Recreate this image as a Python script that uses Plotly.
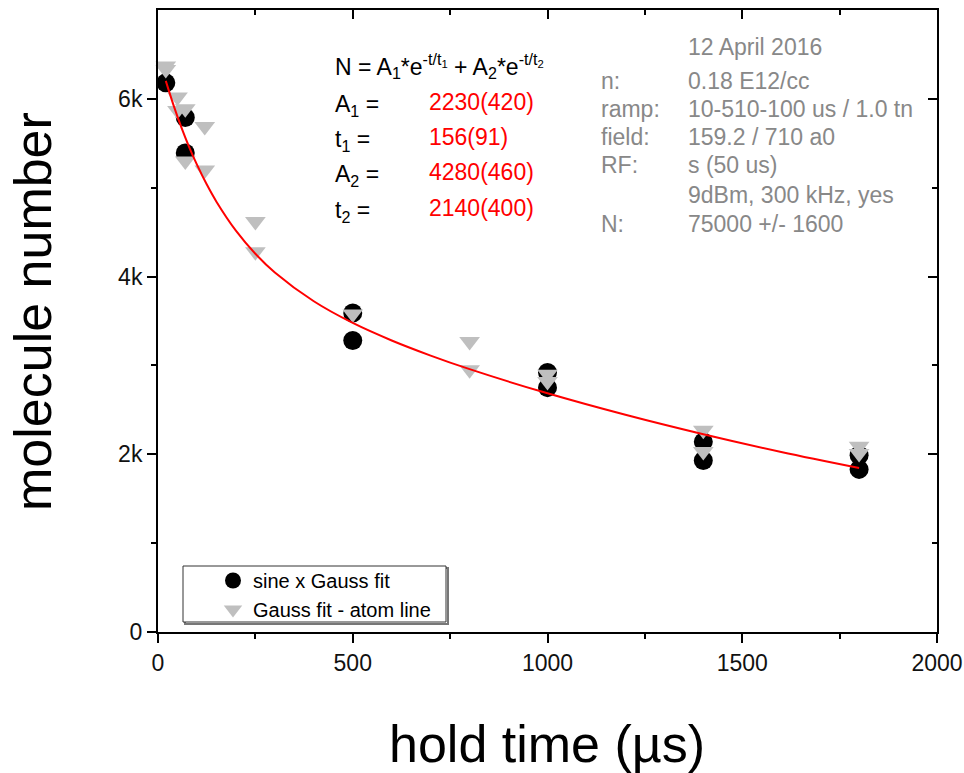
import plotly.graph_objects as go

# ---------------- data ----------------
# sine x Gauss fit (black circles)
circ_t = [20, 70, 70, 500, 500, 1000, 1000, 1400, 1400, 1800, 1800]
circ_n = [6180, 5790, 5390, 3590, 3280, 2920, 2750, 2140, 1930, 1990, 1830]

# Gauss fit - atom line (grey triangles)
tri_t = [20, 20, 50, 50, 70, 70, 120, 120, 250, 250, 500, 800, 800,
         1000, 1000, 1400, 1400, 1800, 1800]
tri_n = [6370, 6330, 6020, 5870, 5890, 5300, 5690, 5200, 4620, 4280, 3580, 3270, 2950,
         2900, 2820, 2270, 2030, 2090, 2010]

# fitted curve (red)
fit_t = [20, 40, 60, 80, 100, 125, 150, 200, 250, 300, 400, 500, 600, 700,
         800, 1000, 1200, 1400, 1600, 1800]
fit_n = [6202, 5927, 5680, 5458, 5260, 5038, 4843, 4517, 4257, 4046, 3722, 3478,
         3281, 3111, 2958, 2686, 2444, 2225, 2026, 1846]

x_ticks = [0, 500, 1000, 1500, 2000]
y_ticks = [0, 2000, 4000, 6000]
y_ticktext = ["0", "2k", "4k", "6k"]

eq_labels = ["A<sub>1</sub> =", "t<sub>1</sub> =", "A<sub>2</sub> =", "t<sub>2</sub> ="]
eq_values = ["2230(420)", "156(91)", "4280(460)", "2140(400)"]
info_labels = ["", "n:", "ramp:", "field:", "RF:", "", "N:"]
info_values = ["12 April 2016", "0.18 E12/cc", "10-510-100 us / 1.0 tn",
               "159.2 / 710 a0", "s (50 us)", "9dBm, 300 kHz, yes", "75000 +/- 1600"]

# ---------------- layout helpers ----------------
W, H = 964, 773
L, R, T, B = 158, 937, 10, 632
FONT = "Liberation Sans, Arial, sans-serif"


def px(x):
    return (x - L) / (R - L)


def py(y):
    return (B - y) / (B - T)


fig = go.Figure()
fig.add_trace(go.Scatter(x=circ_t, y=circ_n, mode="markers", name="sine x Gauss fit",
                         marker=dict(symbol="circle", size=19, color="black"),
                         cliponaxis=False))
fig.add_trace(go.Scatter(x=tri_t, y=tri_n, mode="markers", name="Gauss fit - atom line",
                         marker=dict(symbol="triangle-down", size=18, color="#bfbfbf"),
                         cliponaxis=False))
fig.add_trace(go.Scatter(x=fit_t, y=fit_n, mode="lines", line=dict(color="red", width=2, shape="spline"),
                         showlegend=False, hoverinfo="skip"))
# carrier for the mirrored top/right axes
fig.add_trace(go.Scatter(x=[0], y=[0], xaxis="x2", yaxis="y2", mode="markers",
                         marker=dict(opacity=0), showlegend=False, hoverinfo="skip"))

axis_common = dict(showgrid=False, zeroline=False, showline=True, linecolor="black",
                   linewidth=2, tickcolor="black", tickwidth=2, automargin=False)

fig.update_layout(
    width=W, height=H,
    margin=dict(l=L, r=W - R, t=T, b=H - B, autoexpand=False),
    paper_bgcolor="white", plot_bgcolor="white",
    font=dict(family=FONT, color="black"),
    xaxis=dict(range=[0, 2000], ticks="outside", ticklen=9, tickvals=x_ticks,
               tickfont=dict(size=23, color="#111"),
               minor=dict(tickvals=[250, 750, 1250, 1750], ticks="outside", ticklen=5,
                          tickwidth=2, tickcolor="black"),
               **axis_common),
    yaxis=dict(range=[0, 7000], ticks="outside", ticklen=9, tickvals=y_ticks,
               ticktext=y_ticktext, tickfont=dict(size=23, color="#111"),
               minor=dict(tickvals=[1000, 3000, 5000], ticks="outside", ticklen=5,
                          tickwidth=2, tickcolor="black"),
               **axis_common),
    xaxis2=dict(range=[0, 2000], overlaying="x", side="top", anchor="y",
                ticks="inside", ticklen=9, tickvals=x_ticks, showticklabels=False,
                minor=dict(tickvals=[250, 750, 1250, 1750], ticks="inside", ticklen=5,
                           tickwidth=2, tickcolor="black"),
                **axis_common),
    yaxis2=dict(range=[0, 7000], overlaying="y", side="right", anchor="x",
                ticks="inside", ticklen=9, tickvals=y_ticks, showticklabels=False,
                minor=dict(tickvals=[1000, 3000, 5000], ticks="inside", ticklen=5,
                           tickwidth=2, tickcolor="black"),
                **axis_common),
    legend=dict(x=px(213), y=py(561), xanchor="left", yanchor="top",
                bgcolor="rgba(0,0,0,0)", borderwidth=0,
                font=dict(size=20, family=FONT, color="black"),
                tracegroupgap=0, itemsizing="trace"),
    showlegend=True,
)

# legend frame with shadow
fig.add_shape(type="rect", xref="paper", yref="paper", x0=px(185), x1=px(448),
              y0=py(624), y1=py(568), line=dict(color="#777", width=2), fillcolor="rgba(0,0,0,0)",
              layer="below")
fig.add_shape(type="rect", xref="paper", yref="paper", x0=px(183), x1=px(446),
              y0=py(622), y1=py(566), line=dict(color="#333", width=1), fillcolor="white",
              layer="below")

annots = []
# axis titles
annots.append(dict(text="molecule number", x=px(33), y=py(312), xref="paper", yref="paper",
                   xanchor="center", yanchor="middle",
                   textangle=-90, showarrow=False, font=dict(size=52, family=FONT, color="black")))
annots.append(dict(text="hold time (\u00b5s)", x=px(547), y=py(744), xref="paper", yref="paper",
                   xanchor="center", yanchor="middle",
                   showarrow=False, font=dict(size=52, family=FONT, color="black")))

# fit equation block
annots.append(dict(text="N = A<sub>1</sub>*e<sup>-t/t<sub>1</sub></sup> + A<sub>2</sub>*e<sup>-t/t<sub>2</sub></sup>",
                   x=px(333), y=py(66), xref="paper", yref="paper", xanchor="left", yanchor="middle",
                   showarrow=False, font=dict(size=23, family=FONT, color="black")))
eq_rows = [102, 137, 172, 208]
for lab, val, yy in zip(eq_labels, eq_values, eq_rows):
    annots.append(dict(text=lab, x=px(333), y=py(yy + 3), xref="paper", yref="paper",
                       xanchor="left", yanchor="middle", showarrow=False,
                       font=dict(size=23, family=FONT, color="black")))
    annots.append(dict(text=val, x=px(427), y=py(yy), xref="paper", yref="paper",
                       xanchor="left", yanchor="middle", showarrow=False,
                       font=dict(size=23, family=FONT, color="red")))

# info block
info_rows = [47, 81, 109, 137, 165, 195, 224]
for lab, val, yy in zip(info_labels, info_values, info_rows):
    if lab:
        annots.append(dict(text=lab, x=px(599), y=py(yy), xref="paper", yref="paper",
                           xanchor="left", yanchor="middle", showarrow=False,
                           font=dict(size=23, family=FONT, color="#888888")))
    annots.append(dict(text=val, x=px(686), y=py(yy), xref="paper", yref="paper",
                       xanchor="left", yanchor="middle", showarrow=False,
                       font=dict(size=23, family=FONT, color="#888888")))

fig.update_layout(annotations=annots)

fig.write_html("out.html", config={"displayModeBar": False},
               post_script="document.body.style.margin='0';")
